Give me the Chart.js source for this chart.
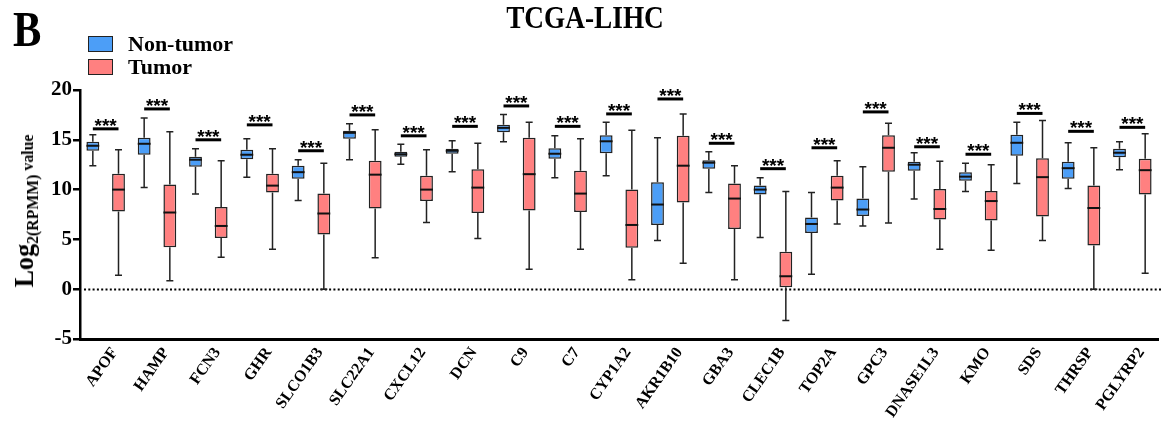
<!DOCTYPE html>
<html>
<head>
<meta charset="utf-8">
<script src="https://cdn.jsdelivr.net/npm/chart.js@4.4.0/dist/chart.umd.min.js"></script>
<style>
    body { margin: 0; background: #fff; }
    #wrap { position: relative; width: 1161px; height: 421px; overflow: hidden;
            font-family: "Liberation Serif", "Times New Roman", serif; font-weight: bold; color: #000; }
    #chart { position: absolute; left: 0; top: 0; }
    .abs { position: absolute; white-space: nowrap; line-height: 1; }
    .swatch { position: absolute; width: 25px; height: 16px; box-sizing: border-box; border: 1.5px solid #222; }
    #ytitle { position: absolute; left: 24px; top: 211px; white-space: nowrap; line-height: 1;
              transform: translate(-50%, -50%) rotate(-90deg) scaleX(0.93); }
    #ytitle .big { font-size: 28px; }
    #ytitle .sub { font-size: 17px; position: relative; top: 5px; }
    #ytitle .small { font-size: 17px; }
</style>
</head>
<body>
<div id="wrap">
    <canvas id="chart" width="1161" height="421"></canvas>
    <div class="abs" style="left:13px; top:4px; font-size:50px; transform: scaleX(0.85); transform-origin: left top;">B</div>
    <div class="abs" style="left:585px; top:2px; font-size:31px; transform: translateX(-50%) scaleX(0.88);">TCGA-LIHC</div>
    <div class="swatch" style="left:88px; top:36px; background:#4C9EF7;"></div>
    <div class="abs" style="left:128px; top:33px; font-size:22px;">Non-tumor</div>
    <div class="swatch" style="left:88px; top:59px; background:#FF8080;"></div>
    <div class="abs" style="left:128px; top:56px; font-size:22px;">Tumor</div>
    <div id="ytitle"><span class="big">Log</span><span class="sub">2(RPMM)</span><span class="small"> value</span></div>
</div>
<script>
// Genes and box statistics (log2 RPMM)
const genes = ['APOF', 'HAMP', 'FCN3', 'GHR', 'SLCO1B3', 'SLC22A1', 'CXCL12', 'DCN', 'C9', 'C7', 'CYP1A2',
    'AKR1B10', 'GBA3', 'CLEC1B', 'TOP2A', 'GPC3', 'DNASE1L3', 'KMO', 'SDS', 'THRSP', 'PGLYRP2'];

const normalMin = [12.4, 10.2, 9.55, 11.25, 8.9, 13.0, 12.55, 11.8, 14.8, 11.2, 11.4, 4.9, 9.7, 5.2, 1.5, 6.35, 9.05, 9.8, 10.6, 10.1, 12.0];
const normalQ1  = [13.9, 13.5, 12.3, 13.05, 11.1, 15.1, 13.3, 13.6, 15.75, 13.1, 13.65, 6.45, 12.1, 9.5, 5.65, 7.35, 11.9, 10.9, 13.4, 11.1, 13.25];
const normalMed = [14.4, 14.6, 13.0, 13.5, 11.75, 15.7, 13.55, 13.9, 16.2, 13.6, 14.85, 8.5, 12.7, 10.0, 6.55, 8.0, 12.5, 11.3, 14.7, 12.15, 13.7];
const normalQ3  = [14.8, 15.2, 13.3, 14.0, 12.4, 15.9, 13.8, 14.1, 16.5, 14.15, 15.45, 10.75, 12.95, 10.4, 7.2, 9.1, 12.8, 11.75, 15.5, 12.8, 14.1];
const normalMax = [15.5, 17.2, 14.1, 15.1, 13.0, 16.6, 14.55, 14.9, 17.55, 15.4, 16.75, 15.2, 13.8, 11.2, 9.7, 12.3, 13.7, 12.65, 16.75, 14.7, 14.8];

const tumorMin = [1.4, 0.85, 3.2, 4.0, 0, 3.15, 6.7, 5.1, 2.0, 4.0, 0.95, 2.6, 0.95, -3.15, 6.55, 6.65, 4.0, 3.9, 4.9, 0, 1.6];
const tumorQ1  = [7.8, 4.2, 5.15, 9.7, 5.5, 8.1, 8.85, 7.65, 7.9, 7.75, 4.15, 8.7, 6.05, 0.2, 8.9, 11.8, 7.0, 6.9, 7.3, 4.4, 9.5];
const tumorMed = [10.0, 7.7, 6.35, 10.4, 7.6, 11.5, 10.0, 10.2, 11.55, 9.6, 6.45, 12.4, 9.1, 1.3, 10.2, 14.2, 8.05, 8.85, 11.25, 8.15, 11.95];
const tumorQ3  = [11.6, 10.5, 8.25, 11.6, 9.6, 12.9, 11.4, 12.05, 15.2, 11.9, 10.0, 15.4, 10.6, 3.75, 11.4, 15.45, 10.05, 9.85, 13.15, 10.4, 13.1];
const tumorMax = [14.0, 15.8, 12.9, 14.1, 12.65, 16.0, 14.0, 14.65, 16.75, 15.1, 15.95, 17.6, 12.4, 9.8, 12.9, 16.65, 12.85, 12.5, 16.95, 14.2, 15.6];

// Height of the significance bracket for each gene
const sigLevel = [16.1, 18.1, 15.0, 16.5, 13.9, 17.5, 15.4, 16.35, 18.4, 16.35, 17.6, 19.1, 14.65, 12.1, 14.2, 17.8, 14.3, 13.55, 17.65, 15.85, 16.25];
const sigText = genes.map(() => '***');

const yTicks = [-5, 0, 5, 10, 15, 20];

const whiskerStats = [
    { min: normalMin, med: normalMed, max: normalMax, q1: normalQ1, q3: normalQ3 },
    { min: tumorMin, med: tumorMed, max: tumorMax, q1: tumorQ1, q3: tumorQ3 }
];

// Dotted zero line, behind the boxes
const zeroLinePlugin = {
    id: 'zeroLine',
    beforeDatasetsDraw(chart) {
        const { ctx, chartArea, scales } = chart;
        const y = Math.round(scales.y.getPixelForValue(0)) + 0.5;
        ctx.save();
        ctx.strokeStyle = '#000';
        ctx.lineWidth = 2;
        ctx.setLineDash([2, 2.3]);
        ctx.beginPath();
        ctx.moveTo(chartArea.left + 4, y);
        ctx.lineTo(chart.width, y);
        ctx.stroke();
        ctx.restore();
    }
};

// Whiskers, medians and significance brackets
const boxPlotPlugin = {
    id: 'boxPlot',
    afterDatasetsDraw(chart) {
        const { ctx } = chart;
        const yScale = chart.scales.y;
        ctx.save();
        whiskerStats.forEach((s, di) => {
            const meta = chart.getDatasetMeta(di);
            meta.data.forEach((bar, i) => {
                const x = bar.x;
                const half = bar.width / 2;
                const yMin = yScale.getPixelForValue(s.min[i]);
                const yMax = yScale.getPixelForValue(s.max[i]);
                const yQ1 = yScale.getPixelForValue(s.q1[i]);
                const yQ3 = yScale.getPixelForValue(s.q3[i]);
                const yMed = yScale.getPixelForValue(s.med[i]);

                ctx.strokeStyle = '#222';
                ctx.lineWidth = 1.5;
                ctx.beginPath();
                ctx.moveTo(x, yQ3); ctx.lineTo(x, yMax);
                ctx.moveTo(x - 3.5, yMax); ctx.lineTo(x + 3.5, yMax);
                ctx.moveTo(x, yQ1); ctx.lineTo(x, yMin);
                ctx.moveTo(x - 3.5, yMin); ctx.lineTo(x + 3.5, yMin);
                ctx.stroke();

                ctx.strokeStyle = '#111';
                ctx.lineWidth = 2;
                ctx.beginPath();
                ctx.moveTo(x - half, yMed); ctx.lineTo(x + half, yMed);
                ctx.stroke();
            });
        });

        const blue = chart.getDatasetMeta(0).data;
        const red = chart.getDatasetMeta(1).data;
        ctx.fillStyle = '#000';
        ctx.strokeStyle = '#000';
        ctx.lineWidth = 3;
        ctx.font = 'bold 19px "Liberation Sans", Arial, sans-serif';
        ctx.textAlign = 'center';
        ctx.textBaseline = 'alphabetic';
        sigLevel.forEach((v, i) => {
            const y = yScale.getPixelForValue(v);
            const x1 = blue[i].x;
            const x2 = red[i].x;
            ctx.beginPath();
            ctx.moveTo(x1, y); ctx.lineTo(x2, y);
            ctx.stroke();
            ctx.fillText(sigText[i], (x1 + x2) / 2, y + 3);
        });
        ctx.restore();
    }
};

const ctx = document.getElementById('chart').getContext('2d');
new Chart(ctx, {
    type: 'bar',
    data: {
        labels: genes,
        datasets: [
            {
                label: 'Non-tumor',
                data: normalQ1.map((q1, i) => [q1, normalQ3[i]]),
                backgroundColor: '#4C9EF7',
                borderColor: '#222',
                borderWidth: 1.5,
                borderSkipped: false
            },
            {
                label: 'Tumor',
                data: tumorQ1.map((q1, i) => [q1, tumorQ3[i]]),
                backgroundColor: '#FF8080',
                borderColor: '#222',
                borderWidth: 1.5,
                borderSkipped: false
            }
        ]
    },
    options: {
        responsive: false,
        animation: false,
        categoryPercentage: 1.0,
        barPercentage: 0.5,
        layout: { padding: { left: 0, right: 3, top: 90, bottom: 0 } },
        plugins: {
            legend: { display: false },
            title: { display: false },
            tooltip: { enabled: false }
        },
        scales: {
            x: {
                offset: true,
                grid: { display: false, drawTicks: false },
                border: { display: true, color: '#000', width: 3 },
                ticks: {
                    color: '#000',
                    font: { family: '"Liberation Serif", "Times New Roman", serif', size: 16, weight: 'bold' },
                    maxRotation: 55,
                    minRotation: 55,
                    autoSkip: false,
                    padding: 5,
                    labelOffset: 9
                },
                afterFit(scale) { scale.height = 82; }
            },
            y: {
                min: -5,
                max: 20,
                afterBuildTicks(scale) { scale.ticks = yTicks.map(v => ({ value: v })); },
                grid: { display: true, drawOnChartArea: false, drawTicks: true, tickLength: 7, color: '#000', lineWidth: 2.5 },
                border: { display: true, color: '#000', width: 2.5 },
                ticks: {
                    color: '#000',
                    padding: 1,
                    font: { family: '"Liberation Serif", "Times New Roman", serif', size: 21, weight: 'bold' }
                },
                afterFit(scale) { scale.width = 80; }
            }
        }
    },
    plugins: [zeroLinePlugin, boxPlotPlugin]
});
</script>
</body>
</html>
